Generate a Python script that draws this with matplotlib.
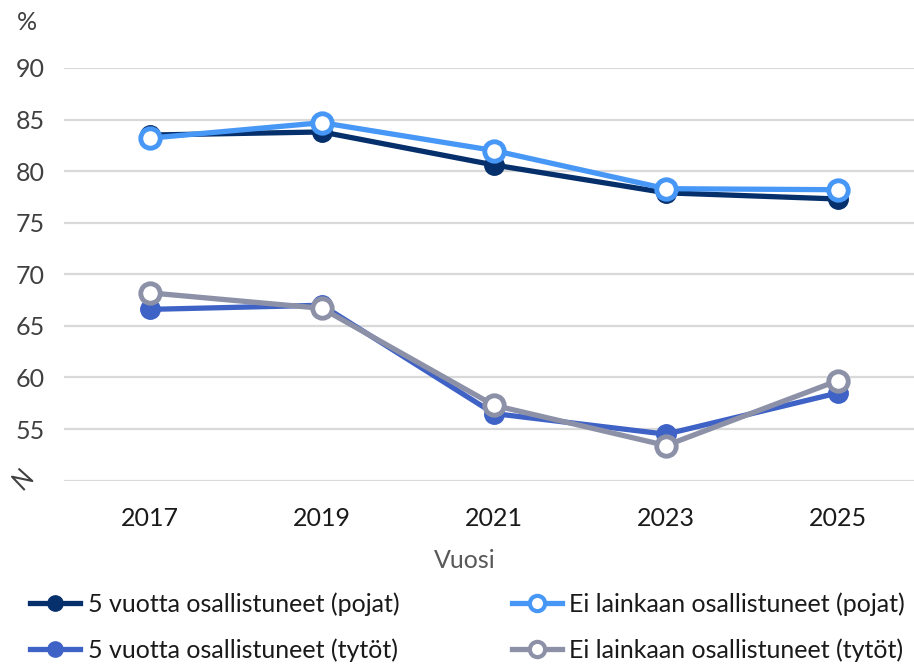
import matplotlib
matplotlib.use("Agg")
import matplotlib.pyplot as plt
from matplotlib.lines import Line2D

years = ["2017", "2019", "2021", "2023", "2025"]
poj5 = [83.5, 83.8, 80.6, 77.9, 77.3]
poj0 = [83.2, 84.7, 82.0, 78.3, 78.2]
tyt5 = [66.6, 67.0, 56.5, 54.5, 58.5]
tyt0 = [68.2, 66.7, 57.3, 53.4, 59.7]
labels = ["5 vuotta osallistuneet (pojat)", "Ei lainkaan osallistuneet (pojat)",
          "5 vuotta osallistuneet (tytöt)", "Ei lainkaan osallistuneet (tytöt)"]
yticks = [55, 60, 65, 70, 75, 80, 85, 90]

plt.rcParams['font.family'] = ['Lato', 'DejaVu Sans']

W, H = 914, 668
fig = plt.figure(figsize=(W/100, H/100), dpi=100)
left, right = 64, 924
top, bottom = 68, 480.6
ax = fig.add_axes([left/W, 1-bottom/H, (right-left)/W, (bottom-top)/H])
ax.set_xlim(-0.5, 4.5)
ax.set_ylim(50, 90)

x = list(range(len(years)))
c_navy = "#06306b"
c_lblue = "#4797f6"
c_blue = "#3f62c6"
c_gray = "#8c91a8"
lw = 3.8
ms = 14

ax.plot(x, poj5, color=c_navy, lw=lw, marker='o', ms=ms, mfc=c_navy, mec=c_navy, clip_on=False, zorder=3)
ax.plot(x, poj0, color=c_lblue, lw=lw, marker='o', ms=ms, mfc='white', mec=c_lblue, mew=3.5, clip_on=False, zorder=4)
ax.plot(x, tyt5, color=c_blue, lw=lw, marker='o', ms=ms, mfc=c_blue, mec=c_blue, clip_on=False, zorder=3)
ax.plot(x, tyt0, color=c_gray, lw=lw, marker='o', ms=ms, mfc='white', mec=c_gray, mew=3.5, clip_on=False, zorder=4)

for v in [50] + yticks:
    ax.axhline(v, color="#d9d9d9", lw=1.6, zorder=1)

for s in ax.spines.values():
    s.set_visible(False)
ax.set_yticks(yticks)
ax.set_yticklabels([str(v) for v in yticks], fontsize=18, color="#404040")
ax.set_xticks(x)
ax.set_xticklabels(years, fontsize=18, color="#1a1a1a")
ax.tick_params(axis='both', length=0)
ax.tick_params(axis='y', pad=14)
ax.tick_params(axis='x', pad=19)

fig.text(27/W, 1-22/H, "%", fontsize=18, color="#404040", ha='center', va='center')
fig.text(465/W, 1-560/H, "Vuosi", fontsize=18, color="#595959", ha='center', va='center')

# axis break symbol
bx = [24.0, 12.0, 32.3, 19.3]
by = [489.3, 476.7, 481.0, 469.3]
fig.add_artist(Line2D([v/W for v in bx], [1-v/H for v in by], color="#404040", lw=1.5,
                      transform=fig.transFigure))

h_poj5 = Line2D([], [], color=c_navy, lw=lw, marker='o', ms=11, mfc=c_navy, mec=c_navy)
h_poj0 = Line2D([], [], color=c_lblue, lw=lw, marker='o', ms=11, mfc='white', mec=c_lblue, mew=3)
h_tyt5 = Line2D([], [], color=c_blue, lw=lw, marker='o', ms=11, mfc=c_blue, mec=c_blue)
h_tyt0 = Line2D([], [], color=c_gray, lw=lw, marker='o', ms=11, mfc='white', mec=c_gray, mew=3)
# column-major order: column 1 = 5 vuotta, column 2 = Ei lainkaan
handles = [h_poj5, h_tyt5, h_poj0, h_tyt0]
leg_labels = [labels[0], labels[2], labels[1], labels[3]]
leg = fig.legend(handles, leg_labels, ncol=2, loc='upper left', bbox_to_anchor=(30/W, 1-592/H),
                 frameon=False, fontsize=18, handlelength=2.0, handletextpad=0.3,
                 columnspacing=4.5, labelspacing=0.9, borderaxespad=0, borderpad=0)
for t in leg.get_texts():
    t.set_color("#1a1a1a")

fig.savefig("out.png", dpi=100)
